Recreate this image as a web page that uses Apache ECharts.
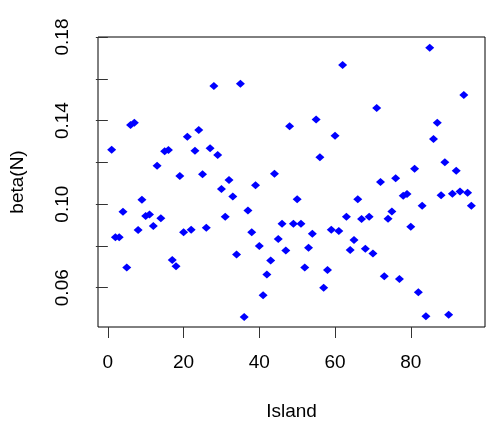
<!DOCTYPE html>
<html>
<head>
<meta charset="utf-8">
<script src="https://cdn.jsdelivr.net/npm/echarts@6/dist/echarts.min.js"></script>
<style>
  html, body { margin: 0; padding: 0; background: #fff; }
  #chart { width: 492px; height: 428px; }
</style>
</head>
<body>
<div id="chart"></div>
<script>
// beta(N) for each island, islands numbered 1..96
const betaValues = [
  0.1260, 0.0842, 0.0842, 0.0964, 0.0697, 0.1379, 0.1390, 0.0876, 0.1021, 0.0943,
  0.0951, 0.0896, 0.1184, 0.0932, 0.1253, 0.1259, 0.0733, 0.0703, 0.1135, 0.0865,
  0.1323, 0.0877, 0.1256, 0.1355, 0.1143, 0.0887, 0.1268, 0.1566, 0.1235, 0.1072,
  0.0940, 0.1116, 0.1037, 0.0759, 0.1576, 0.0460, 0.0970, 0.0865, 0.1090, 0.0800,
  0.0564, 0.0663, 0.0730, 0.1146, 0.0833, 0.0906, 0.0778, 0.1373, 0.0906, 0.1024,
  0.0906, 0.0697, 0.0791, 0.0858, 0.1405, 0.1224, 0.0600, 0.0685, 0.0877, 0.1327,
  0.0871, 0.1666, 0.0940, 0.0781, 0.0828, 0.1023, 0.0929, 0.0786, 0.0940, 0.0764,
  0.1460, 0.1106, 0.0655, 0.0930, 0.0965, 0.1124, 0.0642, 0.1040, 0.1048, 0.0892,
  0.1170, 0.0578, 0.0992, 0.0463, 0.1749, 0.1312, 0.1389, 0.1042, 0.1200, 0.0471,
  0.1050, 0.1160, 0.1061, 0.1522, 0.1055, 0.0992
];
const xTicks = [0, 20, 40, 60, 80];
const yTicks = [0.06, 0.08, 0.10, 0.12, 0.14, 0.16, 0.18];
const yLabels = [0.06, 0.10, 0.14, 0.18];

const points = betaValues.map((v, i) => [i + 1, v]);

const chart = echarts.init(document.getElementById('chart'));
const font = 'Liberation Sans, Arial, sans-serif';

chart.setOption({
  animation: false,
  grid: {
    left: 97, top: 37, width: 388, height: 290,
    show: true, borderColor: '#000', borderWidth: 1, backgroundColor: 'transparent'
  },
  xAxis: {
    type: 'value',
    min: -2.6, max: 99.6,
    name: 'Island',
    nameLocation: 'middle',
    nameGap: 75,
    nameTextStyle: { fontFamily: font, fontSize: 19, color: '#000' },
    splitLine: { show: false },
    axisLine: { show: false },
    axisTick: { show: true, length: 11, lineStyle: { color: '#333' }, customValues: xTicks },
    axisLabel: { margin: 26, fontFamily: font, fontSize: 19, color: '#000', customValues: xTicks }
  },
  yAxis: {
    type: 'value',
    min: 0.0412, max: 0.18,
    name: 'beta(N)',
    nameLocation: 'middle',
    nameGap: 71,
    nameTextStyle: { fontFamily: font, fontSize: 19, color: '#000' },
    splitLine: { show: false },
    axisLine: { show: false },
    axisTick: { show: true, length: 12, lineStyle: { color: '#333' }, customValues: yTicks },
    axisLabel: {
      margin: 26, rotate: 90, fontFamily: font, fontSize: 19, color: '#000',
      customValues: yLabels,
      formatter: v => v.toFixed(2)
    }
  },
  series: [{
    type: 'scatter',
    data: points,
    symbol: 'diamond',
    symbolSize: [9, 8],
    itemStyle: { color: '#0000FF', opacity: 1 }
  }]
});
</script>
</body>
</html>
